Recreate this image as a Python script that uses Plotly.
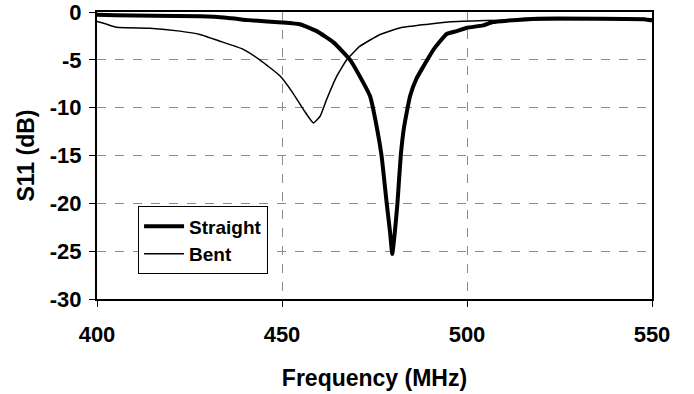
import plotly.graph_objects as go

straight_freq = [400, 405, 415, 428, 435, 441, 446, 450, 455, 459.4, 464, 468.4, 471, 473.8, 475.6, 476.9,
                 478.3, 479.2, 479.8, 480.5, 481.2, 482.1, 483, 484.6, 486.3, 488.2, 491, 494.5, 497.2, 500,
                 504.3, 507, 511, 519, 535, 548, 550]
straight_s11 = [-0.3, -0.35, -0.4, -0.45, -0.6, -0.85, -1.0, -1.1, -1.3, -2.0, -3.2, -5.0, -6.7, -8.8, -12, -15,
                -20, -23, -25.3, -23, -20, -15, -12, -8.8, -7, -5.7, -3.9, -2.3, -2.0, -1.65,
                -1.4, -1.05, -0.9, -0.7, -0.7, -0.75, -0.9]

bent_freq = [400, 402, 405.3, 414.3, 422.4, 427.8, 433.2, 439.5, 444, 449.5, 453, 455.8, 458.5, 460.3, 462,
             464.8, 467.5, 471, 476.5, 482, 489, 495, 505, 520, 535, 550]
bent_s11 = [-1.0, -1.2, -1.6, -1.7, -2.0, -2.35, -3.05, -3.9, -5.0, -6.7, -8.5, -10.2, -11.6, -10.9, -9.2,
            -6.7, -5.0, -3.6, -2.35, -1.65, -1.3, -1.05, -0.9, -0.8, -0.75, -0.7]

x_ticks = [400, 450, 500, 550]
y_ticks = [0, -5, -10, -15, -20, -25, -30]

FONT = "Liberation Sans, Arial, sans-serif"

fig = go.Figure()
fig.add_trace(go.Scatter(x=straight_freq, y=straight_s11, mode="lines", name="<b>Straight</b>",
                         line=dict(color="black", width=4, shape="spline", smoothing=0.4)))
fig.add_trace(go.Scatter(x=bent_freq, y=bent_s11, mode="lines", name="<b>Bent</b>",
                         line=dict(color="black", width=1.5, shape="spline", smoothing=0.4)))

fig.update_layout(
    width=694, height=394,
    margin=dict(l=97, r=42, t=12, b=95, autoexpand=False),
    paper_bgcolor="white", plot_bgcolor="white",
    font=dict(family=FONT, color="black", size=20),
    legend=dict(x=0.074, y=0.323, xanchor="left", yanchor="top",
                bordercolor="black", borderwidth=1, bgcolor="white",
                font=dict(size=19, family=FONT), itemwidth=40, tracegroupgap=6),
    showlegend=True,
)
fig.update_xaxes(
    range=[400, 550], tickvals=x_ticks, ticktext=[f"<b>{v}</b>" for v in x_ticks],
    showline=True, linecolor="black", linewidth=2, mirror=True,
    ticks="outside", ticklen=6, tickcolor="black",
    showgrid=True, gridcolor="#8a8a8a", griddash="dash", gridwidth=1, zeroline=False,
    tickfont=dict(size=22), automargin=False, ticklabeloverflow="allow", ticklabelstandoff=9,
    title=dict(text="<b>Frequency (MHz)</b>", font=dict(size=23), standoff=23),
)
fig.update_yaxes(
    range=[-30, 0], tickvals=y_ticks, ticktext=[f"<b>{v}</b>" for v in y_ticks],
    showline=True, linecolor="black", linewidth=2, mirror=True,
    ticks="outside", ticklen=6, tickcolor="black",
    showgrid=True, gridcolor="#8a8a8a", griddash="dash", gridwidth=1, zeroline=False,
    tickfont=dict(size=22), automargin=False, ticklabeloverflow="allow", ticklabelstandoff=3,
    title=dict(text="<b>S11 (dB)</b>", font=dict(size=23), standoff=9),
)

fig.write_html("out.html")
